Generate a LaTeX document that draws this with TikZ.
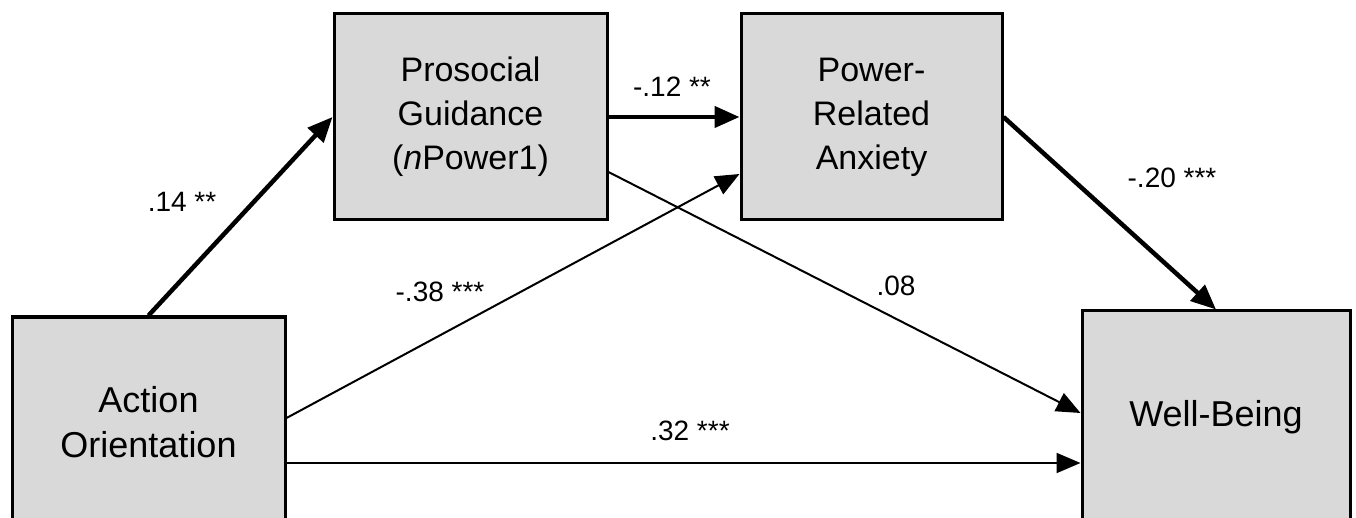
\documentclass[tikz,border=0pt]{standalone}
\usepackage{fontspec}
\setmainfont{Liberation Sans}
\usetikzlibrary{arrows.meta,positioning}
\begin{document}
\begin{tikzpicture}[x=1pt,y=-1pt,
  box/.style={draw=black,line width=3pt,fill={rgb,255:red,217;green,217;blue,217},align=center,inner sep=0pt,
    font=\fontsize{34}{44}\selectfont},
  bigbox/.style={box,font=\fontsize{36}{45}\selectfont},
  thickarr/.style={line width=4.5pt,-{Triangle[length=25pt,width=21pt]}},
  thinarr/.style={line width=2pt,-{Triangle[length=24pt,width=20pt]}},
  lbl/.style={font=\fontsize{28}{30}\selectfont,inner sep=0pt}]
\useasboundingbox[fill=white] (0,0) rectangle (1356,518);
\begin{scope}
\clip (0,0) rectangle (1356,518);
\node[bigbox,minimum width=273pt,minimum height=210pt] (ao) at (148.5,422) {Action\\Orientation};
\node[box,minimum width=273pt,minimum height=206pt] (pg) at (470.5,117) {Prosocial\\Guidance\\(\textit{n}Power1)};
\node[box,minimum width=261pt,minimum height=206pt] (pa) at (871.5,117) {Power-\\Related\\Anxiety};
\node[bigbox,minimum width=268pt,minimum height=212pt] (wb) at (1216,417) {Well-Being};
\end{scope}
\draw[thickarr] (ao.north) -- (pg.west);
\draw[thickarr] (pg.east) -- (pa.west);
\draw[thickarr] (pa.east) -- (wb.north);
\draw[thinarr] ([yshift=-55pt]pg.east) -- ([yshift=4pt]wb.west);
\draw[thinarr] ([yshift=4pt]ao.east) -- ([yshift=-57pt]pa.west);
\coordinate (aolow) at ([yshift=-41pt]ao.east);
\draw[thinarr] (aolow) -- (aolow -| wb.west);
\node[lbl] (l1) at (182,202) {.14 **};
\node[lbl] (l2) at (672,87) {-.12 **};
\node[lbl] (l3) at (1172,178) {-.20 ***};
\node[lbl] (l4) at (440,292) {-.38 ***};
\node[lbl] (l5) at (896,286) {.08};
\node[lbl] (l6) at (690,431) {.32 ***};
\end{tikzpicture}
\end{document}
